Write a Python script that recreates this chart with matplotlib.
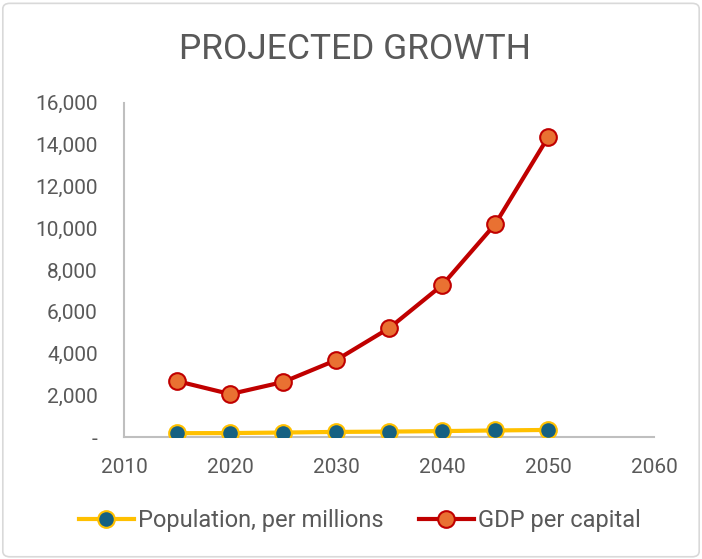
import matplotlib.pyplot as plt
from matplotlib.patches import FancyBboxPatch
from matplotlib.ticker import FuncFormatter

plt.rcParams['font.family'] = ['Roboto', 'DejaVu Sans']

anos = [2015, 2020, 2025, 2030, 2035, 2040, 2045, 2050]
populacao = [190, 195, 220, 250, 265, 290, 320, 345]
pib_per_capita = [2680, 2060, 2640, 3690, 5220, 7280, 10200, 14370]

cinza = '#595959'

def fmt_milhar(v, pos):
    if v == 0:
        return '-'
    return '{:,.0f}'.format(v)

fig = plt.figure(figsize=(7.02, 5.59), dpi=100)
ax = fig.add_axes([0.177, 0.218, 0.755, 0.598])

# borda arredondada do grafico
borda = FancyBboxPatch((0.004, 0.004), 0.992, 0.99, boxstyle='round,pad=0,rounding_size=0.01',
                       transform=fig.transFigure, fill=False, edgecolor='#D9D9D9', linewidth=1.2)
fig.patches.append(borda)

ax.plot(anos, populacao, color='#FFC000', linewidth=3, marker='o', markersize=12,
        markerfacecolor='#156082', markeredgecolor='#FFC000', markeredgewidth=1.5,
        label='Population, per millions', zorder=3)
ax.plot(anos, pib_per_capita, color='#C00000', linewidth=3, marker='o', markersize=12,
        markerfacecolor='#E97132', markeredgecolor='#C00000', markeredgewidth=1.5,
        label='GDP per capital', zorder=3)

ax.set_xlim(2010, 2060)
ax.set_ylim(0, 16000)
ax.set_xticks(range(2010, 2061, 10))
ax.set_yticks(range(0, 16001, 2000))
ax.yaxis.set_major_formatter(FuncFormatter(fmt_milhar))
ax.tick_params(length=0, labelsize=15, labelcolor=cinza)
ax.tick_params(axis='x', pad=15)
ax.tick_params(axis='y', pad=19)

for lado in ['top', 'right']:
    ax.spines[lado].set_visible(False)
for lado in ['left', 'bottom']:
    ax.spines[lado].set_color('#BFBFBF')
    ax.spines[lado].set_linewidth(1.5)

fig.text(0.505, 0.912, 'PROJECTED GROWTH', ha='center', va='center', fontsize=25.5, color=cinza)

fig.legend(loc='center', bbox_to_anchor=(0.513, 0.068), ncol=2, frameon=False,
           fontsize=17, labelcolor=cinza, handlelength=2.3, columnspacing=1.5, handletextpad=0.2)

fig.savefig('out.png', dpi=100)
